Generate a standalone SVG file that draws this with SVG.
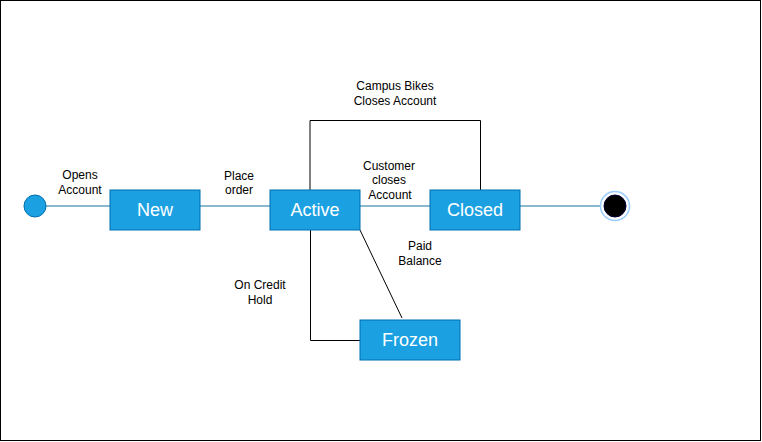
<svg xmlns="http://www.w3.org/2000/svg" width="762" height="442" viewBox="0 0 762 442">
<style>
.node rect{fill:#1ba1e2;stroke:#006eaf;stroke-width:1}
.node text{fill:#ffffff;font-family:"Liberation Sans",Arial,sans-serif;font-size:18px;text-anchor:middle}
.lbl{fill:#000;font-family:"Liberation Sans",Arial,sans-serif;font-size:12px;text-anchor:middle}
.cb{stroke:#10739e;stroke-width:1;fill:none}
.ck{stroke:#000;stroke-width:1;fill:none}
</style>
<rect x="0.5" y="0.5" width="760" height="440" fill="#ffffff" stroke="#000"/>
<g id="connectors">
<line class="cb" x1="46" y1="206" x2="110" y2="206"/>
<line class="cb" x1="200" y1="206" x2="270" y2="206"/>
<line class="cb" x1="360" y1="206" x2="430" y2="206"/>
<line class="cb" x1="520" y1="206" x2="600" y2="206"/>
<polyline class="ck" points="310,190 310,120.5 480.5,120.5 480.5,190"/>
<polyline class="ck" points="310.5,230 310.5,340.5 360,340.5"/>
<line class="ck" x1="360" y1="230" x2="402" y2="318"/>
<text class="lbl" x="80" y="179">Opens</text>
<text class="lbl" x="80" y="194">Account</text>
<text class="lbl" x="239" y="180">Place</text>
<text class="lbl" x="239" y="194">order</text>
<text class="lbl" x="395" y="90">Campus Bikes</text>
<text class="lbl" x="395" y="105">Closes Account</text>
<text class="lbl" x="389" y="170">Customer</text>
<text class="lbl" x="389" y="184">closes</text>
<text class="lbl" x="390" y="199">Account</text>
<text class="lbl" x="420" y="250">Paid</text>
<text class="lbl" x="420" y="265">Balance</text>
<text class="lbl" x="260" y="289">On Credit</text>
<text class="lbl" x="260" y="304">Hold</text>
</g>
<g id="start"><circle cx="35" cy="206" r="11" fill="#1ba1e2" stroke="#006eaf"/></g>
<g id="new" class="node"><rect x="110" y="190" width="90" height="40"/><text x="155" y="216">New</text></g>
<g id="active" class="node"><rect x="270" y="190" width="90" height="40"/><text x="315" y="216">Active</text></g>
<g id="closed" class="node"><rect x="430" y="190" width="90" height="40"/><text x="475" y="216">Closed</text></g>
<g id="frozen" class="node"><rect x="360" y="320" width="100" height="40"/><text x="410" y="346">Frozen</text></g>
<g id="end"><circle cx="615" cy="206" r="14.5" fill="#ffffff" stroke="#99ccff" stroke-width="1.5"/><circle cx="615" cy="206" r="11" fill="#000" stroke="#003"/></g>
</svg>
